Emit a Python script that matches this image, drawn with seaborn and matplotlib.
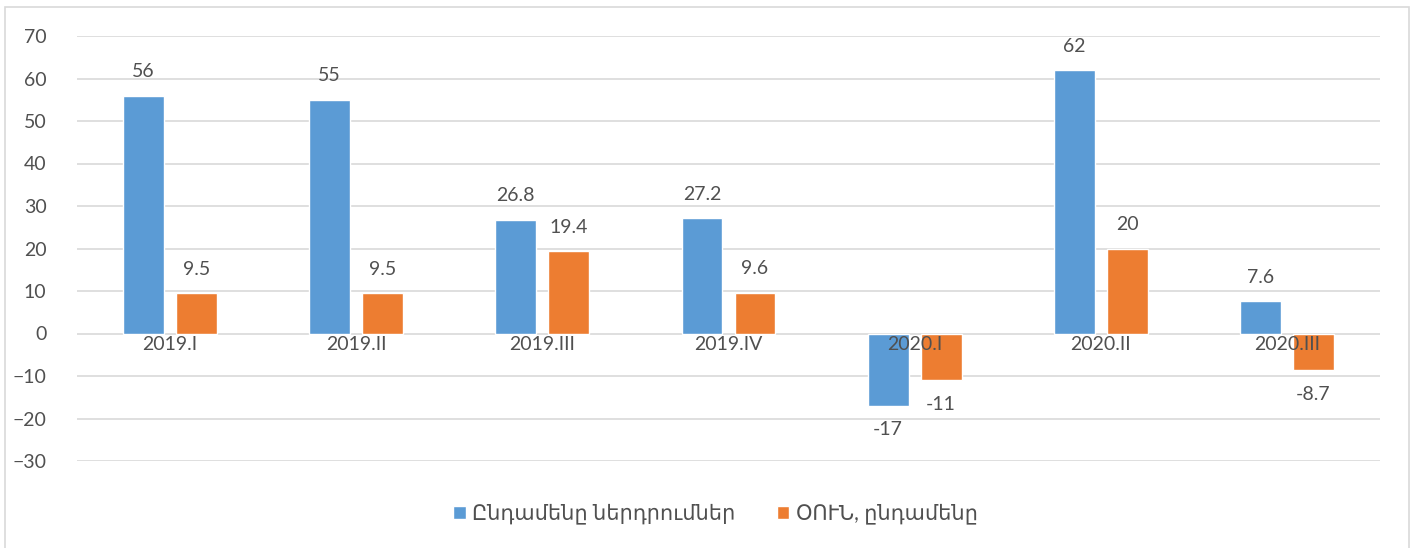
import matplotlib
matplotlib.use("Agg")
import matplotlib.pyplot as plt
from matplotlib.patches import Rectangle
import matplotlib.transforms as mtransforms
import seaborn as sns
import pandas as pd

# Quarterly data
quarters = ["2019.I", "2019.II", "2019.III", "2019.IV", "2020.I", "2020.II", "2020.III"]
total_investment = [56, 55, 26.8, 27.2, -17, 62, 7.6]
fdi_total = [9.5, 9.5, 19.4, 9.6, -11, 20, -8.7]
series_names = ["Ընդամենը ներդրումներ", "ՕՈՒՆ, ընդամենը"]
value_labels_1 = ["56", "55", "26.8", "27.2", "-17", "62", "7.6"]
value_labels_2 = ["9.5", "9.5", "19.4", "9.6", "-11", "20", "-8.7"]

colors = ["#5B9BD5", "#ED7D31"]
text_color = "#505050"
grid_color = "#D9D9D9"

df = pd.DataFrame({
    "quarter": quarters * 2,
    "value": total_investment + fdi_total,
    "series": [series_names[0]] * len(quarters) + [series_names[1]] * len(quarters),
})

sns.set_theme(style="white")
plt.rcParams["font.family"] = ["Lato", "DejaVu Sans"]

fig = plt.figure(figsize=(14.15, 5.48), dpi=100)
ax = fig.add_axes([77 / 1415, 1 - 461 / 548, (1380 - 77) / 1415, (461 - 36) / 548])

sns.barplot(data=df, x="quarter", y="value", hue="series", palette=colors,
            width=0.57, gap=0.23, saturation=1, ax=ax, legend=True, zorder=2)

ax.set_ylim(-30, 70)
ax.set_xlim(-0.5, len(quarters) - 0.5)
ax.set_yticks(range(-30, 71, 10))
ax.yaxis.grid(True, color=grid_color, linewidth=1.2, zorder=0)
ax.set_axisbelow(True)
for s in ax.spines.values():
    s.set_visible(False)
ax.tick_params(axis="y", length=0, labelsize=14, labelcolor=text_color, pad=22)
ax.set_xticks([])
ax.set_xlabel("")
ax.set_ylabel("")

# Category labels sit just below the zero line, on top of the bars
trans = mtransforms.offset_copy(ax.transData, fig=fig, x=0, y=-2, units="points")
for i, q in enumerate(quarters):
    ax.text(i, 0, q, transform=trans, ha="center", va="top", fontsize=14,
            color=text_color, zorder=6)

for container, labels in zip(ax.containers, [value_labels_1, value_labels_2]):
    ax.bar_label(container, labels=labels, padding=11, fontsize=14, color=text_color)

leg = ax.legend(loc="center", bbox_to_anchor=(0.49, -0.125), ncol=2, frameon=False,
                fontsize=15, handlelength=0.6, handleheight=0.6, handletextpad=0.3,
                columnspacing=2.0)
for t in leg.get_texts():
    t.set_color(text_color)

# Chart frame
fig.patches.append(Rectangle((5 / 1415, -0.1), (1409 - 5) / 1415, 1 - 7 / 548 + 0.1,
                             transform=fig.transFigure, fill=False,
                             edgecolor="#D9D9D9", linewidth=1.2))

fig.savefig("out.png", dpi=100)
